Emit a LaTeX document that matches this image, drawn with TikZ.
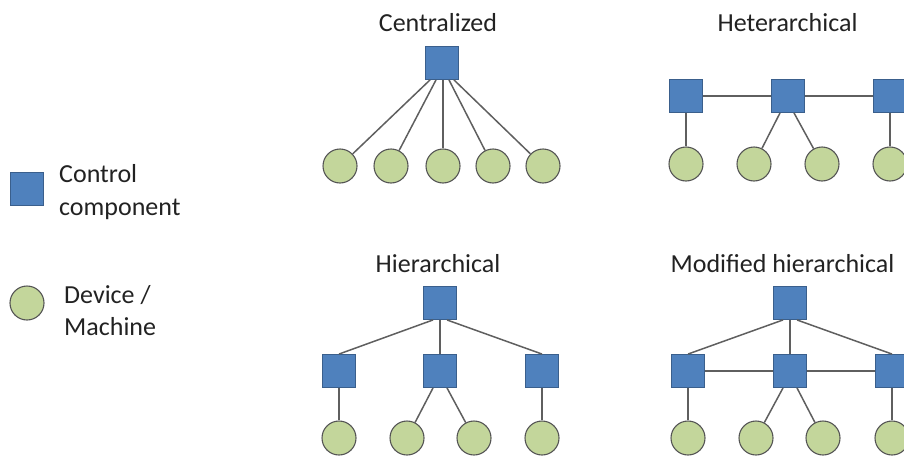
\documentclass[tikz,border=0pt]{standalone}
\usepackage{fontspec}
\setmainfont{Carlito}
\definecolor{ctrlfill}{HTML}{4F81BD}
\definecolor{ctrldraw}{HTML}{3A5F8C}
\definecolor{devfill}{HTML}{C3D69B}
\definecolor{devdraw}{HTML}{555555}
\definecolor{linkcol}{HTML}{5F5F5F}
\definecolor{txtcol}{HTML}{222222}
\tikzset{
  ctrl/.style={rectangle, draw=ctrldraw, fill=ctrlfill, line width=0.9pt, minimum size=33pt, inner sep=0pt},
  dev/.style={circle, draw=devdraw, fill=devfill, line width=1.1pt, minimum size=34pt, inner sep=0pt},
  link/.style={draw=linkcol, line width=1.5pt},
  title/.style={anchor=base, text=txtcol, font=\fontsize{26pt}{32pt}\selectfont, inner sep=0pt},
  legtext/.style={anchor=base west, text=txtcol, font=\fontsize{26pt}{32pt}\selectfont, inner sep=0pt, align=left}
}
\begin{document}
\begin{tikzpicture}[x=1pt,y=-1pt]
\useasboundingbox (0,0) rectangle (904,455);
\clip (0,0) rectangle (904,455);

% legend
\node[ctrl] (lc) at (27,189) {};
\node[legtext] (lct1) at (59,182) {Control};
\node[legtext] (lct2) at (59,215) {component};
\node[dev] (ld) at (27,303) {};
\node[legtext] (ldt1) at (64,303) {Device /};
\node[legtext] (ldt2) at (64,335) {Machine};

% centralized: one controller fanning out to five devices
\node[title] (tc) at (438,31) {Centralized};
\node[ctrl] (c0) at (442,63) {};
\foreach \i/\x in {1/340,2/391,3/443,4/493,5/543}
  \node[dev] (cd\i) at (\x,166) {};
\foreach \i/\s in {1/-12,2/-6,3/1,4/7,5/12}
  \draw[link] ([xshift=\s pt]c0.south) -- (cd\i);

% heterarchical
\node[title] (th) at (787.5,31) {Heterarchical};
\node[ctrl] (h1) at (686,96) {};
\node[ctrl] (h2) at (788,96) {};
\node[ctrl] (h3) at (890,96) {};
\foreach \i/\x in {1/686,2/754,3/822,4/890}
  \node[dev] (hd\i) at (\x,164) {};
\draw[link] (h1) -- (h2);
\draw[link] (h2) -- (h3);
\draw[link] (h1) -- (hd1);
\draw[link] ([xshift=-8pt]h2.south) -- (hd2);
\draw[link] ([xshift=6pt]h2.south) -- (hd3);
\draw[link] (h3) -- (hd4);

% hierarchical
\node[title] (tr) at (438,272) {Hierarchical};
\node[ctrl] (r0) at (440,303) {};
\node[ctrl] (r1) at (339,371) {};
\node[ctrl] (r2) at (440,371) {};
\node[ctrl] (r3) at (542,371) {};
\foreach \i/\x in {1/339,2/407,3/474,4/542}
  \node[dev] (rd\i) at (\x,438) {};
\draw[link] ([xshift=-7pt]r0.south) -- (r1.north);
\draw[link] (r0) -- (r2);
\draw[link] ([xshift=7pt]r0.south) -- (r3.north);
\draw[link] (r1) -- (rd1);
\draw[link] ([xshift=-7pt]r2.south) -- (rd2);
\draw[link] ([xshift=7pt]r2.south) -- (rd3);
\draw[link] (r3) -- (rd4);

% modified hierarchical
\node[title] (tm) at (782.5,272) {Modified hierarchical};
\node[ctrl] (m0) at (790,303) {};
\node[ctrl] (m1) at (688,371) {};
\node[ctrl] (m2) at (790,371) {};
\node[ctrl] (m3) at (892,371) {};
\foreach \i/\x in {1/688,2/756,3/823,4/892}
  \node[dev] (md\i) at (\x,438) {};
\draw[link] ([xshift=-7pt]m0.south) -- (m1.north);
\draw[link] (m0) -- (m2);
\draw[link] ([xshift=7pt]m0.south) -- (m3.north);
\draw[link] (m1) -- (m2);
\draw[link] (m2) -- (m3);
\draw[link] (m1) -- (md1);
\draw[link] ([xshift=-7pt]m2.south) -- (md2);
\draw[link] ([xshift=7pt]m2.south) -- (md3);
\draw[link] (m3) -- (md4);
\end{tikzpicture}
\end{document}
